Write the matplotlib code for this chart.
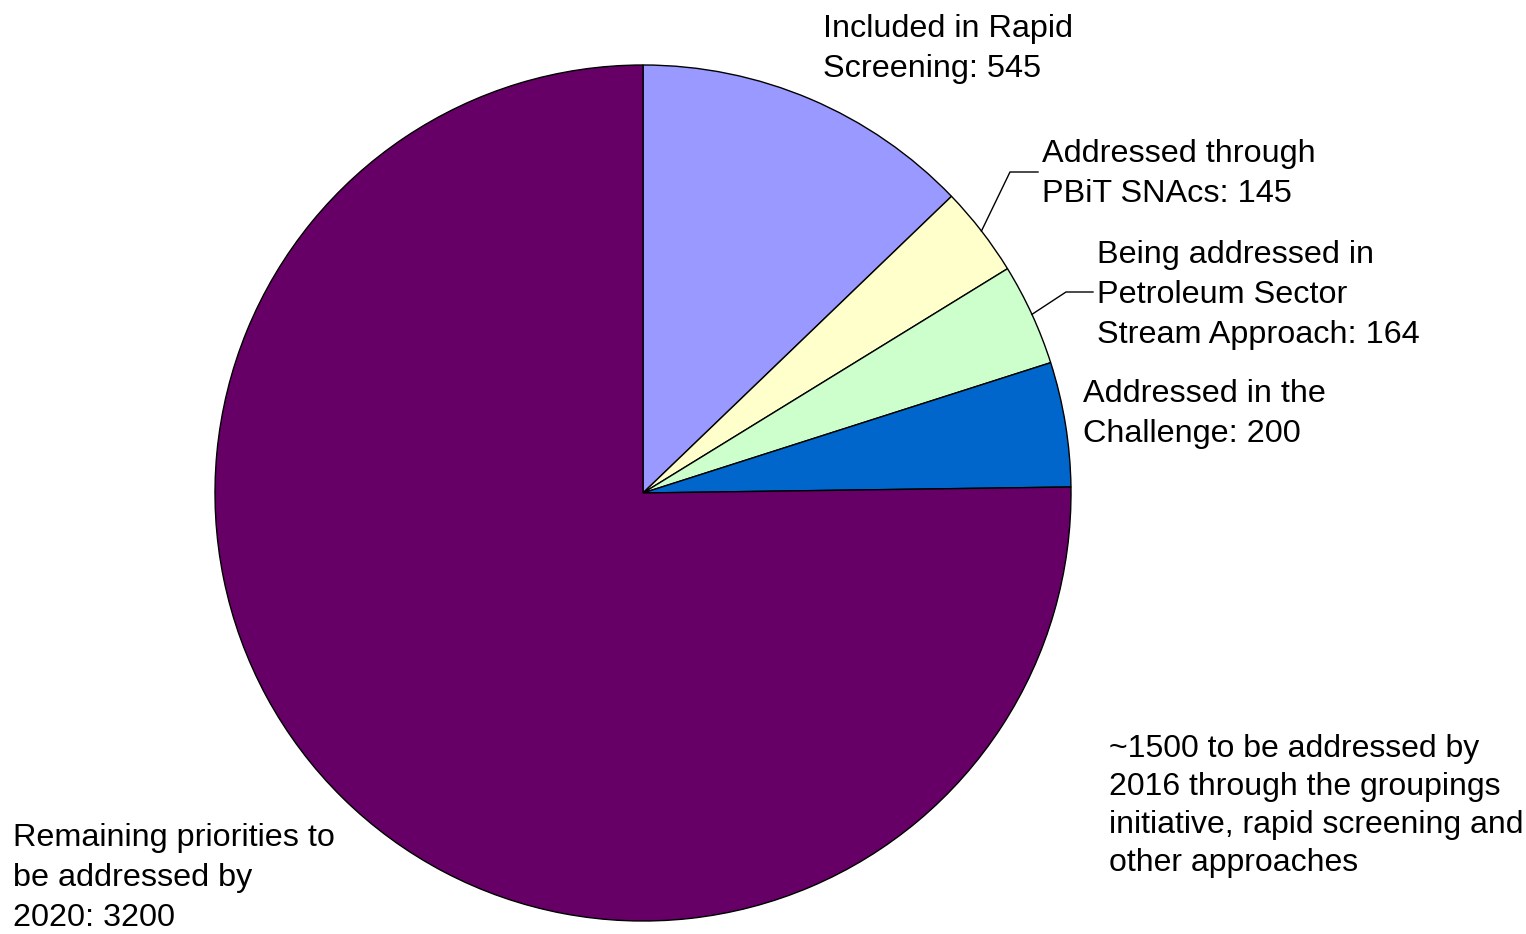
import numpy as np
import matplotlib
matplotlib.use("Agg")
import matplotlib.pyplot as plt

plt.rcParams['font.family'] = ['Liberation Sans', 'DejaVu Sans']

# data
categories = [
    "Included in Rapid\nScreening: 545",
    "Addressed through\nPBiT SNAcs: 145",
    "Being addressed in\nPetroleum Sector\nStream Approach: 164",
    "Addressed in the\nChallenge: 200",
    "Remaining priorities to\nbe addressed by\n2020: 3200",
]
values = [545, 145, 164, 200, 3200]
colors = ["#9999FF", "#FFFFCC", "#CCFFCC", "#0066CC", "#660066"]
note = "~1500 to be addressed by\n2016 through the groupings\ninitiative, rapid screening and\nother approaches"

# figure works in pixel units: pie centre at (643, 493) from top-left
W, H = 1526, 934
cx, cy, R = 643, 493, 428
FS = 23.3

fig = plt.figure(figsize=(W / 100, H / 100), dpi=100)
ax = fig.add_axes([0, 0, 1, 1])

wedges, _ = ax.pie(values, colors=colors, startangle=90, counterclock=False,
                   radius=R, wedgeprops=dict(edgecolor='black', linewidth=1.0))
ax.set_xlim(-cx, W - cx)
ax.set_ylim(-(H - cy), cy)
ax.set_aspect('auto')
ax.set_axis_off()


def px(x, y):
    # pixel coords (top-left origin) -> data coords
    return x - cx, cy - y


# label positions (left edge, vertical centre of block) in pixels
label_pos = [(823, 49), (1042, 174), (1097, 295), (1083, 414), (13, 878)]
for lab, (x, y) in zip(categories, label_pos):
    tx, ty = px(x, y)
    ax.text(tx, ty, lab, fontsize=FS, ha='left', va='center', color='black',
            linespacing=1.42)

# leader lines for the two thin slices
elbows = {1: (1010, 172, 1038), 2: (1066, 292, 1093)}
for i, (ex, ey, endx) in elbows.items():
    w = wedges[i]
    mid = np.deg2rad((w.theta1 + w.theta2) / 2)
    x0, y0 = R * np.cos(mid), R * np.sin(mid)
    x1, y1 = px(ex, ey)
    x2, _ = px(endx, ey)
    ax.plot([x0, x1, x2], [y0, y1, y1], color='black', linewidth=1.0)

nx, ny = px(1109, 806)
ax.text(nx, ny, note, fontsize=23, ha='left', va='center', linespacing=1.35)

fig.savefig("out.png", dpi=100)
